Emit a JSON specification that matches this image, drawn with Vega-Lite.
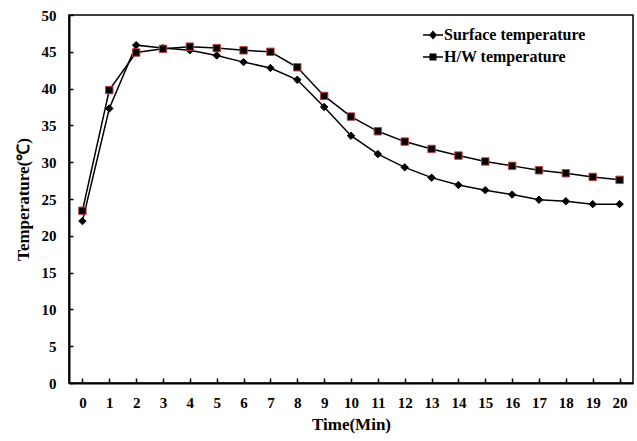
{
  "$schema": "https://vega.github.io/schema/vega-lite/v6.json",
  "width": 564,
  "height": 368,
  "autosize": {"type": "none"},
  "padding": {"left": 69, "top": 15, "right": 4, "bottom": 58},
  "background": "white",
  "config": {
    "view": {"stroke": "black", "strokeWidth": 1.5},
    "font": "Liberation Serif",
    "axis": {"ticks": true, "tickOpacity": 1, "tickColor": "black"}
  },
  "data": {
    "values": [
      {"time": 0, "series": "Surface temperature", "temp": 22.0},
      {"time": 1, "series": "Surface temperature", "temp": 37.3},
      {"time": 2, "series": "Surface temperature", "temp": 45.9},
      {"time": 3, "series": "Surface temperature", "temp": 45.5},
      {"time": 4, "series": "Surface temperature", "temp": 45.2},
      {"time": 5, "series": "Surface temperature", "temp": 44.5},
      {"time": 6, "series": "Surface temperature", "temp": 43.6},
      {"time": 7, "series": "Surface temperature", "temp": 42.8},
      {"time": 8, "series": "Surface temperature", "temp": 41.2},
      {"time": 9, "series": "Surface temperature", "temp": 37.5},
      {"time": 10, "series": "Surface temperature", "temp": 33.6},
      {"time": 11, "series": "Surface temperature", "temp": 31.1},
      {"time": 12, "series": "Surface temperature", "temp": 29.3},
      {"time": 13, "series": "Surface temperature", "temp": 27.9},
      {"time": 14, "series": "Surface temperature", "temp": 26.9},
      {"time": 15, "series": "Surface temperature", "temp": 26.2},
      {"time": 16, "series": "Surface temperature", "temp": 25.6},
      {"time": 17, "series": "Surface temperature", "temp": 24.9},
      {"time": 18, "series": "Surface temperature", "temp": 24.7},
      {"time": 19, "series": "Surface temperature", "temp": 24.3},
      {"time": 20, "series": "Surface temperature", "temp": 24.3},
      {"time": 0, "series": "H/W temperature", "temp": 23.4},
      {"time": 1, "series": "H/W temperature", "temp": 39.8},
      {"time": 2, "series": "H/W temperature", "temp": 44.9},
      {"time": 3, "series": "H/W temperature", "temp": 45.4},
      {"time": 4, "series": "H/W temperature", "temp": 45.7},
      {"time": 5, "series": "H/W temperature", "temp": 45.5},
      {"time": 6, "series": "H/W temperature", "temp": 45.2},
      {"time": 7, "series": "H/W temperature", "temp": 45.0},
      {"time": 8, "series": "H/W temperature", "temp": 42.9},
      {"time": 9, "series": "H/W temperature", "temp": 39.0},
      {"time": 10, "series": "H/W temperature", "temp": 36.2},
      {"time": 11, "series": "H/W temperature", "temp": 34.2},
      {"time": 12, "series": "H/W temperature", "temp": 32.8},
      {"time": 13, "series": "H/W temperature", "temp": 31.8},
      {"time": 14, "series": "H/W temperature", "temp": 30.9},
      {"time": 15, "series": "H/W temperature", "temp": 30.1},
      {"time": 16, "series": "H/W temperature", "temp": 29.5},
      {"time": 17, "series": "H/W temperature", "temp": 28.9},
      {"time": 18, "series": "H/W temperature", "temp": 28.5},
      {"time": 19, "series": "H/W temperature", "temp": 28.0},
      {"time": 20, "series": "H/W temperature", "temp": 27.6}
    ]
  },
  "encoding": {
    "x": {
      "field": "time",
      "type": "ordinal",
      "scale": {"paddingInner": 0, "paddingOuter": 0},
      "axis": {
        "title": "Time(Min)",
        "titleFont": "Liberation Serif",
        "titleFontSize": 17,
        "titleFontWeight": "bold",
        "titleColor": "black",
        "titlePadding": 6,
        "labelAngle": 0,
        "labelFont": "Liberation Serif",
        "labelFontSize": 15,
        "labelFontWeight": "bold",
        "labelColor": "black",
        "labelPadding": 17,
        "bandPosition": 0,
        "domain": true,
        "domainColor": "black",
        "domainWidth": 2,
        "ticks": true,
        "tickOpacity": 1,
        "tickColor": "black",
        "tickWidth": 1.5,
        "tickSize": -5,
        "grid": false,
        "zindex": 1
      }
    },
    "y": {
      "field": "temp",
      "type": "quantitative",
      "scale": {"domain": [0, 50], "nice": false},
      "axis": {
        "title": "Temperature(℃)",
        "titleFont": "Liberation Serif",
        "titleFontSize": 17,
        "titleFontWeight": "bold",
        "titleColor": "black",
        "titlePadding": 9,
        "values": [0, 5, 10, 15, 20, 25, 30, 35, 40, 45, 50],
        "labelFont": "Liberation Serif",
        "labelFontSize": 15,
        "labelFontWeight": "bold",
        "labelColor": "black",
        "labelPadding": 17,
        "domain": true,
        "domainColor": "black",
        "domainWidth": 2,
        "ticks": true,
        "tickOpacity": 1,
        "tickColor": "black",
        "tickWidth": 1.5,
        "tickSize": -4,
        "grid": false,
        "zindex": 1
      }
    }
  },
  "layer": [
    {
      "mark": {"type": "line", "color": "black", "strokeWidth": 1.5},
      "encoding": {"detail": {"field": "series"}}
    },
    {
      "mark": {"type": "point", "filled": true, "fill": "black", "opacity": 1, "size": 55, "strokeWidth": 1},
      "encoding": {
        "shape": {
          "field": "series",
          "type": "nominal",
          "scale": {"domain": ["Surface temperature", "H/W temperature"], "range": ["diamond", "square"]},
          "legend": null
        },
        "stroke": {
          "field": "series",
          "type": "nominal",
          "scale": {"domain": ["Surface temperature", "H/W temperature"], "range": ["black", "#c0403f"]},
          "legend": null
        }
      }
    },
    {
      "mark": {"type": "point", "filled": true, "color": "black", "opacity": 0, "size": 400},
      "encoding": {
        "shape": {
          "field": "series",
          "type": "nominal",
          "scale": {"domain": ["Surface temperature", "H/W temperature"], "range": ["M-1,-0.07H1V0.07H-1ZM0,-0.45L0.4,0L0,0.45L-0.4,0Z", "M-1,-0.07H1V0.07H-1ZM-0.35,-0.35H0.35V0.35H-0.35Z"]},
          "legend": {
            "title": null,
            "orient": "none",
            "legendX": 354,
            "legendY": 10,
            "labelFont": "Liberation Serif",
            "labelFontSize": 16,
            "labelFontWeight": "bold",
            "labelColor": "black",
            "labelOffset": 1,
            "rowPadding": 4,
            "symbolSize": 400,
            "symbolOpacity": 1,
            "symbolFillColor": "black",
            "symbolStrokeColor": "black",
            "symbolStrokeWidth": 0
          }
        }
      }
    }
  ],
  "resolve": {"scale": {"shape": "independent"}}
}
